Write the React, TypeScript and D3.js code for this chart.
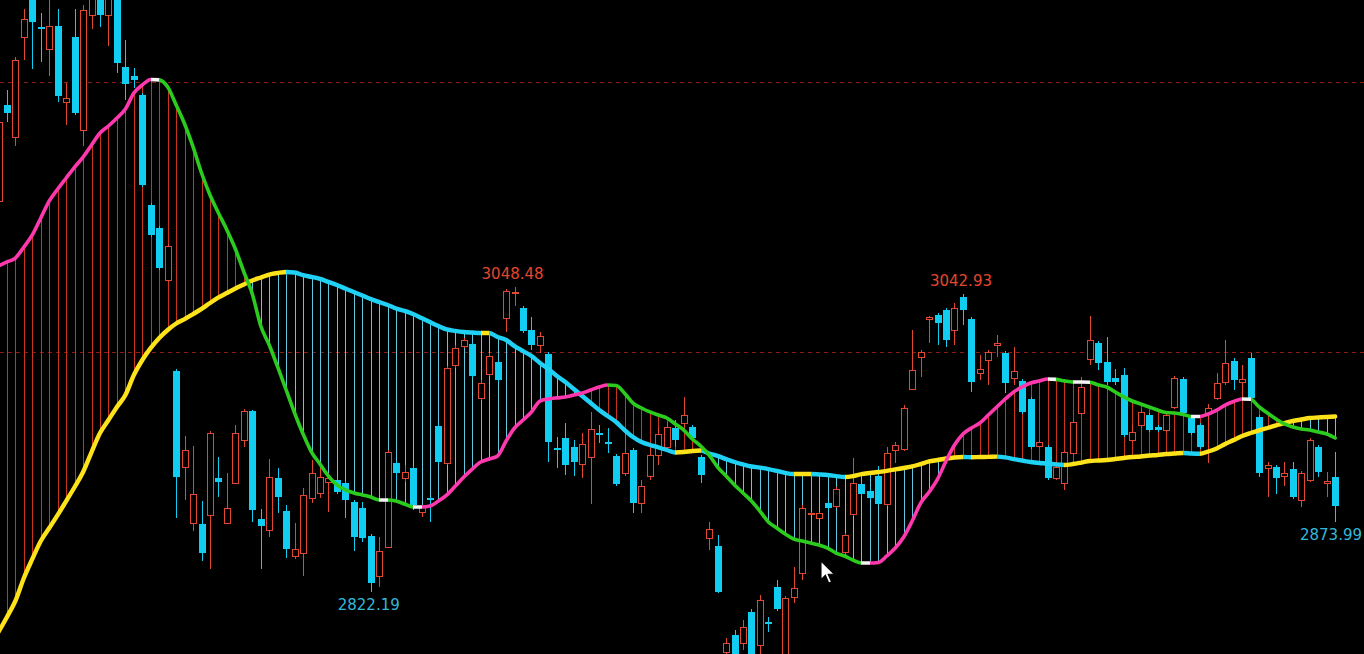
import React from 'react';
import * as d3 from 'd3';

// K-line data, one entry per bar (index 0 is the partly hidden bar at the left edge)
const open = [
  3111.9, 3183.0, 3159.3, 3233.3, 3268.1, 3240.7, 3224.4, 3241.5, 3185.2, 3233.3,
  3164.4, 3249.6, 3268.1, 3249.6, 3264.4, 3211.1, 3204.4, 3190.4, 3108.9, 3091.9,
  3053.3, 2985.9, 2914.8, 2873.3, 2872.6, 2879.3, 2906.7, 2873.3, 2903.0, 2934.8,
  2956.3, 2876.3, 2868.1, 2906.7, 2882.2, 2848.9, 2851.1, 2891.9, 2895.6, 2903.7,
  2905.2, 2903.0, 2888.9, 2884.4, 2863.7, 2834.1, 2855.6, 2917.8, 2906.7, 2914.1,
  2881.5, 2891.9, 2945.2, 2917.8, 2990.4, 3004.4, 3005.9, 2965.9, 2983.7, 2992.6,
  3025.2, 3043.7, 3032.6, 3016.3, 3005.2, 2998.5, 2928.9, 2936.3, 2929.6, 2917.0,
  2922.2, 2940.0, 2933.3, 2923.0, 2910.4, 2927.4, 2888.1, 2908.1, 2923.7, 2929.6,
  2943.7, 2947.4, 2944.4, 2922.2, 2862.2, 2856.3, 2777.8, 2790.4, 2784.4, 2807.4,
  2783.0, 2800.0, 2825.9, 2764.4, 2818.5, 2836.3, 2880.0, 2877.0, 2888.1, 2885.9,
  2851.9, 2880.0, 2902.2, 2897.0, 2908.1, 2887.4, 2927.4, 2928.1, 2972.6, 2996.3,
  3024.4, 3027.4, 3031.1, 3016.3, 3040.5, 3024.4, 2984.4, 2994.1, 3005.2, 2999.3,
  2980.7, 2978.5, 2965.2, 2930.4, 2929.6, 2906.7, 2903.0, 2925.2, 2954.8, 2994.8,
  3006.7, 2992.6, 2980.7, 2983.0, 2934.8, 2945.9, 2953.3, 2944.4, 2942.2, 2959.3,
  2980.0, 2951.1, 2945.9, 2954.8, 2965.9, 2977.8, 2993.3, 2977.8, 2995.6, 2951.9,
  2914.1, 2914.8, 2908.1, 2913.3, 2890.4, 2905.2, 2929.6, 2903.0, 2907.4,
];

const high = [
  3173.3, 3194.1, 3218.5, 3254.1, 3275.6, 3251.1, 3263.0, 3254.1, 3199.3, 3254.1,
  3257.0, 3275.6, 3271.9, 3271.9, 3268.1, 3231.1, 3210.4, 3191.9, 3110.4, 3093.3,
  3080.0, 2987.4, 2937.8, 2930.4, 2889.6, 2941.5, 2922.2, 2910.4, 2945.9, 2957.8,
  2957.0, 2883.7, 2920.7, 2914.1, 2886.7, 2873.3, 2899.3, 2920.0, 2914.8, 2910.4,
  2906.7, 2904.4, 2890.4, 2888.9, 2865.2, 2863.0, 2927.4, 2919.3, 2916.3, 2915.6,
  2886.7, 2892.6, 2947.4, 2989.6, 3005.2, 3010.4, 3007.4, 2979.3, 2999.3, 2994.1,
  3046.5, 3048.48, 3034.1, 3025.9, 3014.8, 3000.0, 2937.0, 2947.4, 2934.8, 2940.0,
  2955.6, 2945.9, 2943.7, 2924.4, 2940.0, 2928.9, 2905.2, 2929.6, 2943.7, 2948.1,
  2949.6, 2966.7, 2945.9, 2923.7, 2874.1, 2864.4, 2788.1, 2794.1, 2801.5, 2809.6,
  2820.0, 2803.7, 2831.1, 2819.3, 2840.7, 2886.7, 2881.5, 2881.5, 2889.6, 2900.0,
  2865.9, 2921.5, 2903.7, 2898.5, 2915.6, 2929.6, 2933.3, 2960.7, 3016.3, 3001.5,
  3026.7, 3028.9, 3032.6, 3036.3, 3042.93, 3025.9, 2997.8, 3001.5, 3012.6, 3000.7,
  3003.7, 2980.0, 2966.7, 2934.8, 2931.1, 2918.5, 2927.4, 2949.6, 2981.5, 3026.7,
  3008.1, 3011.1, 2987.4, 2988.1, 2945.9, 2958.5, 2954.8, 2945.9, 2954.8, 2982.2,
  2981.5, 2952.6, 2947.4, 2961.5, 2984.4, 3008.9, 2995.6, 2990.4, 2999.3, 2953.3,
  2918.5, 2916.3, 2918.5, 2918.5, 2911.9, 2936.3, 2931.1, 2911.1, 2925.9,
];

const low = [
  3108.9, 3170.4, 3152.6, 3216.3, 3209.6, 3214.8, 3204.4, 3185.2, 3168.1, 3175.6,
  3152.6, 3239.3, 3240.7, 3226.7, 3206.7, 3186.7, 3195.6, 3122.2, 3085.2, 3060.7,
  3051.9, 2877.0, 2890.4, 2867.4, 2845.2, 2839.3, 2892.6, 2872.6, 2902.2, 2929.6,
  2874.1, 2839.3, 2863.0, 2880.7, 2847.4, 2846.7, 2834.1, 2888.1, 2891.9, 2881.5,
  2894.8, 2877.0, 2852.6, 2859.3, 2822.19, 2825.9, 2854.8, 2905.2, 2903.7, 2883.0,
  2877.8, 2874.1, 2917.0, 2916.3, 2988.1, 3003.0, 2980.7, 2964.4, 2982.2, 2977.8,
  3014.8, 3034.1, 3014.1, 3001.5, 2999.3, 2918.5, 2914.1, 2908.9, 2908.1, 2906.7,
  2887.4, 2932.6, 2925.2, 2900.7, 2908.1, 2880.7, 2880.7, 2905.2, 2916.3, 2927.4,
  2929.6, 2942.2, 2934.8, 2903.0, 2853.3, 2821.5, 2770.4, 2764.4, 2779.3, 2760.7,
  2775.6, 2792.6, 2808.1, 2757.0, 2814.1, 2831.1, 2879.3, 2876.3, 2883.0, 2884.4,
  2850.4, 2878.5, 2893.3, 2890.4, 2886.7, 2885.9, 2917.8, 2926.7, 2971.9, 2981.5,
  3006.7, 3005.2, 3003.7, 3005.2, 3020.0, 2970.4, 2979.3, 2975.6, 2996.3, 2969.6,
  2975.6, 2954.1, 2928.1, 2928.9, 2905.2, 2905.2, 2897.8, 2923.7, 2953.3, 2990.4,
  2986.7, 2975.6, 2975.6, 2937.0, 2933.3, 2943.7, 2940.7, 2940.7, 2940.7, 2957.8,
  2953.3, 2938.5, 2928.1, 2917.8, 2964.4, 2975.6, 2971.9, 2964.4, 2964.4, 2907.4,
  2892.6, 2894.8, 2900.7, 2891.1, 2885.2, 2903.7, 2907.4, 2892.6, 2873.99,
];

const close = [
  3170.4, 3177.0, 3216.3, 3246.7, 3244.4, 3239.3, 3241.5, 3189.6, 3188.1, 3177.0,
  3253.3, 3271.9, 3249.6, 3266.7, 3214.1, 3198.5, 3201.5, 3123.7, 3086.7, 3062.2,
  3078.5, 2907.4, 2927.4, 2894.8, 2851.1, 2940.0, 2903.7, 2884.4, 2940.0, 2956.3,
  2883.0, 2871.1, 2907.4, 2892.6, 2854.1, 2854.1, 2894.1, 2910.4, 2907.4, 2906.7,
  2896.3, 2890.4, 2863.0, 2862.2, 2828.9, 2852.6, 2925.9, 2910.4, 2911.1, 2886.7,
  2885.2, 2890.4, 2918.5, 2988.1, 3003.0, 3008.9, 2982.2, 2977.0, 2997.0, 2979.3,
  3045.2, 3044.4, 3015.6, 3005.2, 3011.9, 2933.3, 2928.1, 2916.3, 2918.5, 2931.9,
  2943.0, 2938.5, 2932.6, 2902.2, 2925.2, 2888.1, 2900.7, 2923.7, 2939.3, 2944.4,
  2934.8, 2953.3, 2936.3, 2908.9, 2868.9, 2822.2, 2784.4, 2771.9, 2796.3, 2768.1,
  2816.3, 2799.3, 2809.6, 2817.8, 2825.2, 2884.4, 2880.7, 2880.7, 2884.4, 2898.5,
  2864.4, 2903.0, 2894.8, 2891.9, 2887.4, 2925.2, 2931.1, 2958.5, 2986.7, 3000.0,
  3025.9, 3021.5, 3008.9, 3032.6, 3031.1, 2977.8, 2987.4, 3000.0, 3006.7, 2977.0,
  2985.9, 2955.6, 2929.6, 2933.3, 2906.7, 2914.8, 2925.9, 2948.1, 2974.1, 3008.9,
  2991.9, 2977.8, 2977.8, 2938.5, 2940.7, 2955.6, 2942.2, 2942.2, 2953.3, 2980.7,
  2954.8, 2940.0, 2929.6, 2958.5, 2977.0, 2991.9, 2979.3, 2980.0, 2965.9, 2910.4,
  2916.3, 2906.7, 2910.4, 2892.6, 2910.4, 2934.8, 2911.1, 2904.4, 2885.9,
];

// fast average (pink rising / green falling)
const maFast = [
  3063.7, 3066.7, 3069.6, 3077.8, 3086.7, 3099.3, 3111.9, 3120.7, 3128.9, 3137.0,
  3144.4, 3153.3, 3162.2, 3167.4, 3173.3, 3180.0, 3191.9, 3197.8, 3201.9, 3201.6,
  3196.3, 3183.0, 3168.9, 3151.9, 3132.6, 3116.3, 3103.0, 3090.4, 3076.3, 3059.3,
  3043.0, 3019.3, 3005.2, 2988.9, 2971.9, 2954.8, 2939.3, 2925.9, 2917.0, 2908.1,
  2901.5, 2897.8, 2895.6, 2894.1, 2892.6, 2890.4, 2890.4, 2889.6, 2887.4, 2885.2,
  2885.2, 2885.9, 2889.6, 2894.1, 2900.7, 2907.4, 2913.3, 2918.5, 2920.7, 2923.0,
  2934.1, 2943.7, 2949.6, 2955.6, 2963.7, 2965.2, 2966.0, 2966.6, 2968.1, 2969.6,
  2971.9, 2974.1, 2975.6, 2975.2, 2969.5, 2962.2, 2958.5, 2955.6, 2953.3, 2951.1,
  2946.7, 2942.2, 2935.6, 2930.4, 2923.7, 2914.8, 2908.1, 2901.5, 2895.6, 2889.6,
  2882.2, 2874.1, 2869.6, 2865.2, 2861.5, 2860.0, 2858.5, 2857.0, 2854.8, 2851.1,
  2848.9, 2845.9, 2843.7, 2843.7, 2844.1, 2848.9, 2854.8, 2863.0, 2874.8, 2888.1,
  2896.3, 2905.9, 2919.3, 2931.1, 2939.3, 2943.7, 2947.4, 2953.3, 2959.3, 2965.2,
  2970.4, 2974.1, 2977.0, 2978.5, 2980.0, 2979.7, 2978.6, 2977.8, 2977.8, 2977.6,
  2975.6, 2974.1, 2970.4, 2966.7, 2963.7, 2961.5, 2959.3, 2957.0, 2955.2, 2954.8,
  2953.7, 2952.2, 2952.2, 2954.1, 2957.0, 2960.7, 2963.3, 2965.2, 2965.0, 2959.3,
  2954.8, 2950.4, 2946.7, 2944.4, 2943.0, 2942.2, 2940.7, 2939.3, 2936.3,
];

// slow average (yellow rising / cyan falling)
const maSlow = [
  2792.6, 2803.7, 2815.6, 2832.6, 2846.7, 2860.0, 2869.6, 2879.3, 2889.6, 2900.0,
  2911.1, 2925.9, 2940.0, 2949.6, 2959.3, 2968.1, 2983.0, 2994.1, 3003.0, 3010.4,
  3016.3, 3021.1, 3024.4, 3028.1, 3031.9, 3036.3, 3040.4, 3043.7, 3047.0, 3050.0,
  3053.0, 3055.2, 3057.4, 3058.5, 3059.3, 3058.9, 3057.0, 3055.6, 3054.1, 3051.9,
  3049.6, 3047.0, 3044.4, 3041.9, 3039.3, 3037.0, 3034.8, 3032.2, 3030.4, 3028.1,
  3025.2, 3022.2, 3019.3, 3016.7, 3015.6, 3014.8, 3014.4, 3014.1, 3014.1, 3011.1,
  3008.9, 3004.4, 3000.7, 2997.0, 2991.9, 2987.4, 2982.2, 2977.8, 2972.6, 2967.4,
  2962.2, 2957.0, 2952.6, 2948.1, 2942.2, 2937.0, 2933.3, 2931.1, 2929.3, 2927.4,
  2925.6, 2925.9, 2926.7, 2927.0, 2924.8, 2923.0, 2920.7, 2918.5, 2916.7, 2915.2,
  2914.4, 2913.3, 2911.9, 2910.4, 2909.6, 2909.6, 2909.6, 2909.3, 2908.9, 2908.1,
  2907.4, 2908.1, 2909.6, 2910.4, 2911.1, 2911.9, 2913.0, 2914.1, 2915.2, 2917.0,
  2918.9, 2920.0, 2921.1, 2921.9, 2922.2, 2922.0, 2922.2, 2922.3, 2922.5, 2921.9,
  2920.7, 2919.6, 2918.5, 2917.8, 2917.4, 2916.7, 2916.3, 2917.0, 2918.1, 2919.3,
  2919.6, 2920.0, 2920.7, 2921.5, 2922.2, 2922.6, 2923.3, 2923.7, 2924.4, 2924.8,
  2925.2, 2924.8, 2924.6, 2926.3, 2928.5, 2931.9, 2934.8, 2937.8, 2940.0, 2941.9,
  2943.7, 2945.6, 2947.4, 2948.9, 2950.0, 2951.1, 2951.5, 2951.9, 2952.2,
];

const gridLevels = [3000, 3200];

// extreme-value tags: bar index, printed value, above or below the bar
const tagIndex = [61, 114, 44, 158];
const tagValue = [3048.48, 3042.93, 2822.19, 2873.99];
const tagSide = ['high', 'high', 'low', 'low'];

const W = 1364;
const H = 654;

const RED = '#e2472f';
const CYAN = '#12cdf2';
const HATCH_RED = '#c8351c';
const HATCH_CYAN = '#62c8e0';
const PINK = '#ff38ae';
const GREEN = '#2bcc1e';
const WHITE = '#f4f4f4';
const YELLOW = '#ffe31a';
const CYAN_LINE = '#1fd2f5';

export default function App() {
  const n = close.length;
  const idx = d3.range(n);

  const x = d3.scaleLinear().domain([0, n - 1]).range([-1.5, 1335.2]);
  const y = d3.scaleLinear().domain([3000, 3200]).range([352, 82]);

  const px = (i: number) => Math.round(x(i)) + 0.5;

  const fastColor = (d: number) => (d > 0.35 ? PINK : d < -0.35 ? GREEN : WHITE);
  const slowColor = (d: number) => (d >= 0 ? YELLOW : CYAN_LINE);

  const x0 = x(0);
  const span = x(n - 1) - x0;

  // hard-stop gradient so one smooth path can change colour bar by bar
  const stops = (vals: number[], colorOf: (d: number) => string) =>
    idx.slice(1).flatMap(i => {
      const c = colorOf(vals[i] - vals[i - 1]);
      return [
        { o: (x(i - 1) - x0) / span, c },
        { o: (x(i) - x0) / span, c },
      ];
    });

  const line = (vals: number[]) =>
    d3.line<number>()
      .x(i => x(i))
      .y(i => y(vals[i]))
      .curve(d3.curveMonotoneX)(idx) || '';

  const grads = [
    { id: 'gSlow', s: stops(maSlow, slowColor) },
    { id: 'gFast', s: stops(maFast, fastColor) },
  ];

  return (
    <svg
      width={W}
      height={H}
      style={{ position: 'fixed', left: 0, top: 0, display: 'block', background: '#000' }}
    >
      <defs>
        {grads.map(g => (
          <linearGradient key={g.id} id={g.id} gradientUnits="userSpaceOnUse" x1={x0} x2={x(n - 1)} y1={0} y2={0}>
            {g.s.map((s, k) => (
              <stop key={k} offset={s.o} stopColor={s.c} />
            ))}
          </linearGradient>
        ))}
      </defs>
      <rect width={W} height={H} fill="#000" />

      {gridLevels.map(v => (
        <line
          key={v}
          x1={0}
          x2={W}
          y1={Math.round(y(v)) + 0.5}
          y2={Math.round(y(v)) + 0.5}
          stroke="#8e1c10"
          strokeWidth={1}
          strokeDasharray="4 4"
        />
      ))}

      {/* vertical fill between the two averages */}
      <g shapeRendering="crispEdges">
        {idx.map(i => (
          <line
            key={i}
            x1={px(i)}
            x2={px(i)}
            y1={y(maFast[i])}
            y2={y(maSlow[i])}
            stroke={maFast[i] >= maSlow[i] ? HATCH_RED : HATCH_CYAN}
            strokeWidth={1}
          />
        ))}
      </g>

      {/* candles */}
      <g shapeRendering="crispEdges">
        {idx.map(i => {
          const cx = px(i);
          const up = close[i] >= open[i];
          const top = Math.round(y(Math.max(open[i], close[i])));
          const bot = Math.round(y(Math.min(open[i], close[i])));
          const hy = Math.round(y(high[i]));
          const ly = Math.round(y(low[i]));
          if (up) {
            return (
              <g key={i} stroke={RED} strokeWidth={1}>
                {hy < top && <line x1={cx} x2={cx} y1={hy} y2={top} />}
                {ly > bot && <line x1={cx} x2={cx} y1={bot} y2={ly} />}
                <rect x={cx - 3} y={top + 0.5} width={6} height={Math.max(1, bot - top)} fill="#000" />
              </g>
            );
          }
          return (
            <g key={i}>
              <line x1={cx} x2={cx} y1={hy} y2={ly} stroke={CYAN} strokeWidth={1} />
              <rect x={cx - 3.5} y={top} width={7} height={Math.max(2, bot - top)} fill={CYAN} />
            </g>
          );
        })}
      </g>

      {/* averages */}
      <path d={line(maSlow)} fill="none" stroke="url(#gSlow)" strokeWidth={4.4} strokeLinecap="round" strokeLinejoin="round" />
      <path d={line(maFast)} fill="none" stroke="url(#gFast)" strokeWidth={3.6} strokeLinecap="round" strokeLinejoin="round" />

      {/* extreme tags */}
      {tagIndex.map((bi, k) => {
        const isHigh = tagSide[k] === 'high';
        const ty = isHigh ? y(high[bi]) - 8 : y(low[bi]) + 18;
        const tx = Math.min(x(bi) - 2, W - 33);
        return (
          <text
            key={k}
            x={tx}
            y={ty}
            textAnchor="middle"
            fontFamily="DejaVu Sans, sans-serif"
            fontSize={15}
            fill={isHigh ? '#e2472f' : '#33b8da'}
          >
            {tagValue[k].toFixed(2)}
          </text>
        );
      })}

      {/* mouse pointer */}
      <path
        transform="translate(821,561) scale(1.1)"
        d="M0,0 L0,17 L4,13 L7,20 L9.5,19 L6.5,12 L12,12 Z"
        fill="#fff"
        stroke="#000"
        strokeWidth={1}
      />
    </svg>
  );
}
